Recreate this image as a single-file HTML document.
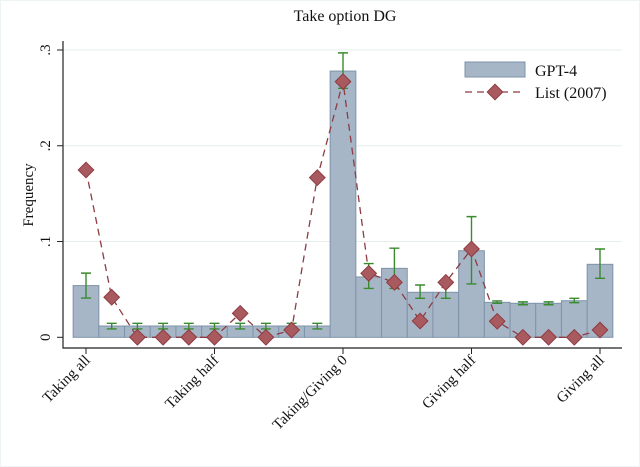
<!DOCTYPE html>
<html><head><meta charset="utf-8"><style>
html,body{margin:0;padding:0;background:#fff;}
svg{display:block;font-family:"Liberation Serif",serif;}
</style></head><body>
<svg id="chart" width="640" height="467" viewBox="0 0 640 467" xmlns="http://www.w3.org/2000/svg">
<rect x="0.5" y="0.5" width="639" height="466" fill="#fff" stroke="#eef3f3"/>
<text x="345" y="21" font-size="16" text-anchor="middle" fill="#111">Take option DG</text>
<text transform="translate(33,195) rotate(-90)" font-size="15" text-anchor="middle" fill="#111">Frequency</text>
<g id="grid"></g>
<g id="bars"></g>
<g id="errs"></g>
<g id="line"></g>
<g id="axes"></g>
<g>
 <rect x="465" y="62" width="60" height="15" fill="#a7b6c7" stroke="#7d93aa"/>
 <text x="535" y="76" font-size="16" fill="#111">GPT-4</text>
 <line x1="465" y1="92" x2="525" y2="92" stroke="#8e3b42" stroke-width="1.3" stroke-dasharray="7,5"/>
 <rect x="489.5" y="86.5" width="11" height="11" transform="rotate(45 495 92)" fill="#a85a5e" stroke="#8e3b42"/>
 <text x="535" y="98" font-size="16" fill="#111">List (2007)</text>
</g>
</svg>
<script>
const gptValues=[0.054,0.0118,0.0118,0.0118,0.0118,0.0118,0.0118,0.0118,0.0118,0.0118,0.278,0.063,0.072,0.047,0.047,0.0904,0.0365,0.0355,0.0355,0.0382,0.0762];
const ciLow=[0.041,0.0087,0.0087,0.0087,0.0087,0.0087,0.0087,0.0087,0.0087,0.0087,0.260,0.051,0.051,0.0407,0.0407,0.0557,0.0355,0.034,0.034,0.0362,0.0616];
const ciHigh=[0.067,0.0146,0.0146,0.0146,0.0146,0.0146,0.0146,0.0146,0.0146,0.0146,0.297,0.077,0.093,0.0546,0.0567,0.126,0.038,0.037,0.037,0.0407,0.0922];
const listValues=[0.1747,0.0418,0,0,0,0,0.025,0,0.0076,0.1667,0.267,0.0668,0.0574,0.017,0.0574,0.0922,0.0167,0,0,0,0.0076];
const yTicks=[0,0.1,0.2,0.3];
const yTickLabels=["0",".1",".2",".3"];
const xTickIdx=[0,5,10,15,20];
const xTickLabels=["Taking all","Taking half","Taking/Giving 0","Giving half","Giving all"];
const NS="http://www.w3.org/2000/svg";
const y0=337.3,yScale=(337.3-50)/0.3,bw=25.7,x0=86;
const X=i=>x0+bw*i, Y=v=>y0-v*yScale;
function mk(tag,attrs,parent){const e=document.createElementNS(NS,tag);for(const k in attrs)e.setAttribute(k,attrs[k]);document.getElementById(parent).appendChild(e);return e;}
yTicks.forEach((t,i)=>{
 if(t>0){const g=mk('line',{x1:63,x2:622,y1:Y(t),y2:Y(t),stroke:'#e6eeee','stroke-width':1},'grid');
 
 }
 const tk=mk('line',{x1:57,x2:63,y1:Y(t),y2:Y(t),stroke:'#222'},'axes');
 
 
 const tl=mk('text',{transform:`translate(50,${Y(t)}) rotate(-90)`,'font-size':15,'text-anchor':'middle',fill:'#111'},'axes');
 tl.textContent=yTickLabels[i];
 
 
});
gptValues.forEach((v,i)=>{
 const r=mk('rect',{x:X(i)-bw/2,y:Y(v),width:bw,height:y0-Y(v),fill:'#a7b6c7',stroke:'#7d93aa','stroke-width':1},'bars');
 
 
 const l=mk('path',{d:`M${X(i)},${Y(ciLow[i])}V${Y(ciHigh[i])}M${X(i)-5},${Y(ciLow[i])}h10M${X(i)-5},${Y(ciHigh[i])}h10`,stroke:'#3a8a2e','stroke-width':1.4,fill:'none'},'errs');
 
 
});
const pl=mk('polyline',{points:listValues.map((v,i)=>`${X(i)},${Y(v)}`).join(' '),fill:'none',stroke:'#8e3b42','stroke-width':1.3,'stroke-dasharray':'7,5'},'line');


listValues.forEach((v,i)=>{
 const m=mk('rect',{x:X(i)-5.5,y:Y(v)-5.5,width:11,height:11,transform:`rotate(45 ${X(i)} ${Y(v)})`,fill:'#a85a5e',stroke:'#8e3b42'},'line');
 
 
});
const ax=mk('path',{d:'M63,41V348H622',stroke:'#222','stroke-width':1.2,fill:'none'},'axes');


xTickIdx.forEach((idx,j)=>{
 const t=mk('line',{x1:X(idx),x2:X(idx),y1:348,y2:354,stroke:'#222'},'axes');
 
 
 const tl=mk('text',{transform:`translate(${X(idx)+5},361) rotate(-45)`,'font-size':15,'text-anchor':'end',fill:'#111'},'axes');
 tl.textContent=xTickLabels[j];
 
 
});
</script>
</body></html>
